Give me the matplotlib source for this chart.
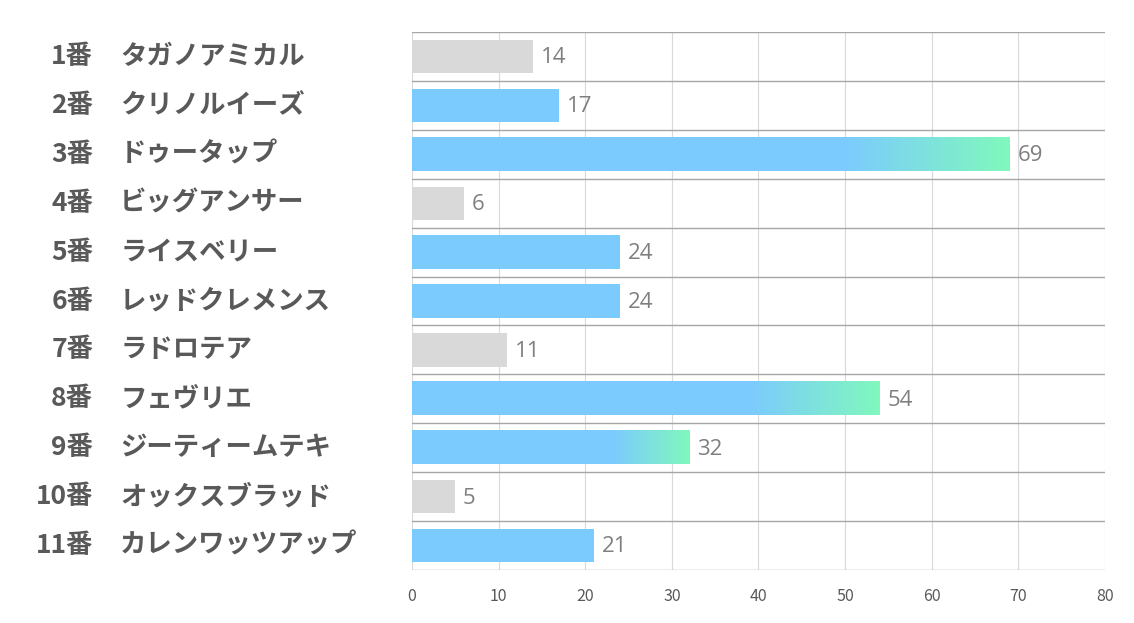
import numpy as np
import matplotlib
matplotlib.use("Agg")
import matplotlib.pyplot as plt
from matplotlib.colors import LinearSegmentedColormap

# ── DATA ──────────────────────────────────────────────
numbers = ["1番", "2番", "3番", "4番", "5番", "6番", "7番", "8番", "9番", "10番", "11番"]
names = ["タガノアミカル", "クリノルイーズ", "ドゥータップ", "ビッグアンサー", "ライスベリー",
         "レッドクレメンス", "ラドロテア", "フェヴリエ", "ジーティームテキ", "オックスブラッド",
         "カレンワッツアップ"]
values = [14, 17, 69, 6, 24, 24, 11, 54, 32, 5, 21]
# g = gray, b = blue, x = blue->green gradient
kinds = ["g", "b", "x", "g", "b", "b", "g", "x", "x", "g", "b"]
xticks = [0, 10, 20, 30, 40, 50, 60, 70, 80]

# ── STYLE ─────────────────────────────────────────────
BLUE = "#7ccbfe"
GREEN = "#80f8bd"
GRAY = "#d9d9d9"
BAR_H = 0.68
GRAD_START = 0.72

plt.rcParams["font.family"] = ["Noto Sans CJK JP", "DejaVu Sans"]

fig = plt.figure(figsize=(11.34, 6.23), dpi=100)
ax = fig.add_axes([0.3633, 0.0851, 0.6111, 0.8635])

n = len(values)

grad_cmap = LinearSegmentedColormap.from_list("bg", [BLUE, GREEN])
ramp = np.concatenate([np.zeros(int(GRAD_START * 200)),
                       np.linspace(0, 1, 200 - int(GRAD_START * 200))])[None, :]

for i, (v, k) in enumerate(zip(values, kinds)):
    if k == "x":
        ax.imshow(ramp, cmap=grad_cmap, aspect="auto", interpolation="bilinear",
                  extent=(0, v, i + BAR_H / 2, i - BAR_H / 2), zorder=2)
    else:
        ax.barh(i, v, height=BAR_H, color=GRAY if k == "g" else BLUE, zorder=2)
    ax.text(v + 0.9, i + 0.03, str(v), va="center", ha="left", fontsize=16,
            color="#7f7f7f", family=["Open Sans", "DejaVu Sans"])

ax.set_xlim(0, 80)
ax.set_ylim(n - 0.5, -0.5)

# grid: light verticals, darker row separators
for t in xticks:
    ax.axvline(t, color="#d9d9d9", lw=0.8, zorder=1)
for b in np.arange(-0.5, n, 1.0):
    ax.axhline(b, color="#a6a6a6", lw=1.0, zorder=3)

for s in ax.spines.values():
    s.set_visible(False)
ax.set_yticks([])
ax.set_xticks(xticks)
ax.tick_params(axis="x", length=0, pad=13, labelsize=11.5, labelcolor="#595959")

# row labels
for i, (num, nm) in enumerate(zip(numbers, names)):
    ax.text(-0.460, i, num, transform=ax.get_yaxis_transform(), ha="right", va="center",
            fontsize=19, fontweight="bold", color="#595959")
    ax.text(-0.421, i, nm, transform=ax.get_yaxis_transform(), ha="left", va="center",
            fontsize=19, fontweight="bold", color="#595959")

fig.savefig("out.png", dpi=100)
